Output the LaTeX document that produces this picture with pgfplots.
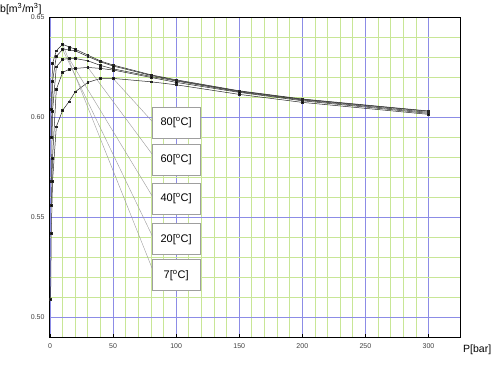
\documentclass[border=0pt]{standalone}
\usepackage{pgfplots}
\pgfplotsset{compat=1.18}
\usepackage{fontspec}
\setmainfont{Liberation Sans}
\definecolor{majgrid}{RGB}{140,140,230}
\definecolor{mingrid}{RGB}{200,230,150}
\begin{document}
\begin{tikzpicture}
\begin{axis}[
  scale only axis, width=410pt, height=319.5pt,
  xmin=0, xmax=325, ymin=0.49, ymax=0.65,
  xtick={0,50,100,150,200,250,300},
  ytick={0.50,0.55,0.60,0.65},
  minor x tick num=4,
  xmajorgrids, xminorgrids,
  major x grid style={draw=majgrid, line width=0.6pt},
  minor x grid style={draw=mingrid, line width=0.7pt},
  tick align=inside, major tick length=3pt, minor tick length=0pt,
  xtick pos=left, ytick pos=left,
  major tick style={black, line width=0.8pt},
  axis line style={line width=1pt},
  /pgf/number format/assume math mode=true,
  ticklabel style={font=\fontsize{7}{8}\selectfont, text=black!75},
  y tick label style={xshift=-2pt, /pgf/number format/fixed, /pgf/number format/fixed zerofill, /pgf/number format/precision=2},
  x tick label style={yshift=-3pt},
  cycle list={{black!85, mark=square*}},
  every axis plot post/.append style={black!85, line width=0.5pt, mark=square*, mark size=0.9pt, mark options={solid, fill=black}},
]
% horizontal grid lines
\draw[mingrid, line width=0.7pt] (0,0.51) -- (325,0.51);
\draw[mingrid, line width=0.7pt] (0,0.52) -- (325,0.52);
\draw[mingrid, line width=0.7pt] (0,0.53) -- (325,0.53);
\draw[mingrid, line width=0.7pt] (0,0.54) -- (325,0.54);
\draw[mingrid, line width=0.7pt] (0,0.56) -- (325,0.56);
\draw[mingrid, line width=0.7pt] (0,0.57) -- (325,0.57);
\draw[mingrid, line width=0.7pt] (0,0.58) -- (325,0.58);
\draw[mingrid, line width=0.7pt] (0,0.59) -- (325,0.59);
\draw[mingrid, line width=0.7pt] (0,0.61) -- (325,0.61);
\draw[mingrid, line width=0.7pt] (0,0.62) -- (325,0.62);
\draw[mingrid, line width=0.7pt] (0,0.63) -- (325,0.63);
\draw[mingrid, line width=0.7pt] (0,0.64) -- (325,0.64);
\draw[majgrid, line width=0.6pt] (0,0.50) -- (325,0.50);
\draw[majgrid, line width=0.6pt] (0,0.55) -- (325,0.55);
\draw[majgrid, line width=0.6pt] (0,0.60) -- (325,0.60);
% A
\addplot coordinates {(1,0.604)(2,0.627)(5,0.6333)(10,0.6366)(15,0.6353)(20,0.6341)(30,0.6312)(40,0.6282)(50,0.6262)(80,0.6213)(100,0.6188)(150,0.6133)(200,0.6092)(300,0.6032)};
% B
\addplot coordinates {(1,0.590)(2,0.618)(5,0.6305)(10,0.634)(15,0.6338)(20,0.6333)(30,0.6305)(40,0.6278)(50,0.6257)(80,0.621)(100,0.6185)(150,0.6131)(200,0.609)(300,0.603)};
% C
\addplot coordinates {(1,0.568)(2,0.603)(5,0.6253)(10,0.629)(15,0.6295)(20,0.6295)(30,0.6283)(40,0.626)(50,0.6243)(80,0.6205)(100,0.6182)(150,0.6128)(200,0.6087)(300,0.6025)};
% D
\addplot coordinates {(1,0.556)(2,0.5795)(5,0.614)(10,0.6225)(15,0.624)(20,0.6245)(30,0.625)(40,0.6245)(50,0.6237)(80,0.620)(100,0.6175)(150,0.6125)(200,0.6083)(300,0.602)};
% E
\addplot coordinates {(0.5,0.509)(1,0.542)(2,0.568)(5,0.5953)(10,0.6035)(15,0.6078)(20,0.6128)(30,0.6175)(40,0.6195)(50,0.6195)(80,0.6178)(100,0.6163)(150,0.6115)(200,0.6075)(300,0.6015)};

\draw[gray!80, line width=0.4pt] (81.4,0.5977) -- (50,0.6195);
\draw[gray!80, line width=0.4pt] (81.4,0.5812) -- (30,0.625);
\draw[gray!80, line width=0.4pt] (81.4,0.5602) -- (15,0.6295);
\draw[gray!80, line width=0.4pt] (81.4,0.5402) -- (10,0.634);
\draw[gray!80, line width=0.4pt] (81.4,0.5237) -- (10,0.6366);

\tikzset{lbl/.style={draw=gray!75, line width=0.9pt, fill=white, minimum width=48pt, minimum height=31pt, inner sep=0pt, font=\fontsize{11}{12}\selectfont}}
\node[lbl] at (100,0.5974) {80[\textsuperscript{o}C]};
\node[lbl] at (100,0.5789) {60[\textsuperscript{o}C]};
\node[lbl] at (100,0.5592) {40[\textsuperscript{o}C]};
\node[lbl] at (100,0.5389) {20[\textsuperscript{o}C]};
\node[lbl] at (100,0.5209) {7[\textsuperscript{o}C]};
\end{axis}
\node[anchor=west, font=\fontsize{10.5}{12}\selectfont, inner sep=0pt] at (-50pt,328pt) {b[m\textsuperscript{3}/m\textsuperscript{3}]};
\node[anchor=west, font=\fontsize{10.5}{12}\selectfont, inner sep=0pt] at (413pt,-13pt) {P[bar]};
\pgfresetboundingbox
\path[use as bounding box] (-50pt,-28pt) rectangle (446pt,337pt);
\end{tikzpicture}
\end{document}
